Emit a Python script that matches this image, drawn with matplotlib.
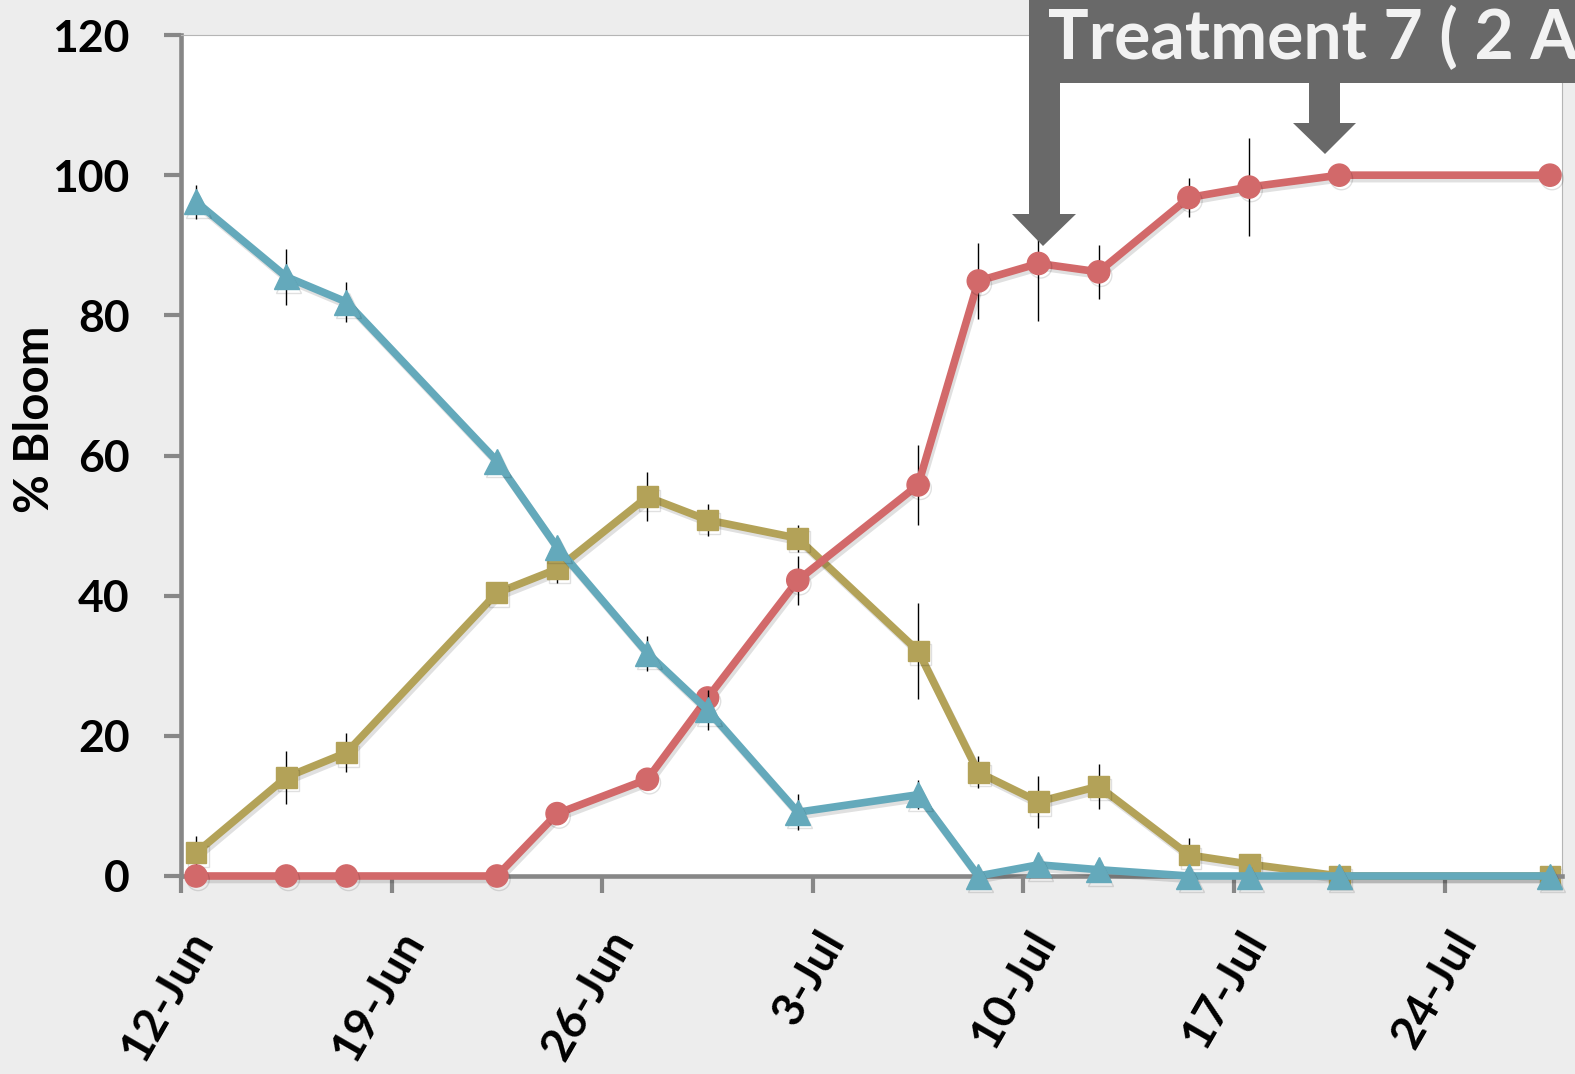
import pandas as pd
import matplotlib.pyplot as plt
import matplotlib.patheffects as pe
from matplotlib.patches import Rectangle, Polygon
from matplotlib.transforms import ScaledTranslation

plt.rcParams['font.family'] = ['Lato', 'DejaVu Sans']
plt.rcParams['font.weight'] = 'bold'

# sampling dates
obs_dates = ['2015-06-12', '2015-06-15', '2015-06-17', '2015-06-22', '2015-06-24',
             '2015-06-27', '2015-06-29', '2015-07-02', '2015-07-06', '2015-07-08',
             '2015-07-10', '2015-07-12', '2015-07-15', '2015-07-17', '2015-07-20',
             '2015-07-27']

# % bloom per stage (mean and error)
bud = [96.2, 85.5, 81.9, 59.2, 46.9, 31.8, 23.7, 9.1, 11.6, 0, 1.6, 0.9, 0, 0, 0, 0]
bud_err = [2.4, 4.0, 2.9, 1.5, 1.0, 2.5, 2.9, 2.6, 2.1, 0, 0.5, 0.3, 0, 0, 0, 0]
open_bloom = [3.3, 14.1, 17.6, 40.4, 43.8, 54.1, 50.8, 48.2, 32.1, 14.8, 10.6, 12.8, 3.0, 1.7, 0, 0]
open_bloom_err = [2.4, 3.8, 2.8, 1.5, 2.0, 3.5, 2.3, 1.9, 6.9, 2.3, 3.7, 3.2, 2.4, 0.8, 0, 0]
petal_fall = [0, 0, 0, 0, 8.9, 13.8, 25.4, 42.2, 55.8, 84.9, 87.4, 86.2, 96.8, 98.3, 100, 100]
petal_fall_err = [0, 0, 0, 0, 0.5, 0.5, 1.5, 3.5, 5.7, 5.4, 8.2, 3.8, 2.8, 7.0, 0, 0]

tick_dates = ['2015-06-12', '2015-06-19', '2015-06-26', '2015-07-03',
              '2015-07-10', '2015-07-17', '2015-07-24']
tick_labels = ['12-Jun', '19-Jun', '26-Jun', '3-Jul', '10-Jul', '17-Jul', '24-Jul']
y_ticks = [0, 20, 40, 60, 80, 100, 120]

title_text = 'Treatment 7 ( 2 Applications)'

W, H = 1575, 1074
fig = plt.figure(figsize=(W / 100, H / 100), dpi=100, facecolor='#ededed')
ax = fig.add_axes([181 / W, 1 - 876 / H, (1562 - 181) / W, (876 - 35) / H])
ax.set_facecolor('white')

# Excel date axis puts each point in the middle of its day
dates = pd.to_datetime(obs_dates) + pd.Timedelta(hours=12)

shadow = [pe.SimpleLineShadow(offset=(1.5, -2.5), shadow_color='black', alpha=0.12), pe.Normal()]

series = [
    (open_bloom, open_bloom_err, '#b3a258', 's', 15),
    (petal_fall, petal_fall_err, '#d2696a', 'o', 16),
    (bud, bud_err, '#64a9bb', '^', 18),
]
for i, (vals, err, color, marker, ms) in enumerate(series):
    ax.errorbar(dates, vals, yerr=err, fmt='none', ecolor='black', elinewidth=1.0,
                capsize=0, zorder=1 + i * 2)
    ax.plot(dates, vals, color=color, linewidth=5.5, marker=marker, markersize=ms,
            markeredgecolor=color, zorder=2 + i * 2, path_effects=shadow, clip_on=False)

start = pd.Timestamp('2015-06-12')
ax.set_xlim(start, start + pd.Timedelta(days=45.9))
ax.set_ylim(0, 120)

ax.set_xticks(pd.to_datetime(tick_dates))
ax.set_xticklabels(tick_labels, rotation=60, ha='right', va='center',
                   rotation_mode='anchor', fontsize=33, fontweight='bold')
ax.set_yticks(y_ticks)
ax.set_yticklabels([str(v) for v in y_ticks], fontsize=32, fontweight='bold')

for side in ['left', 'bottom']:
    ax.spines[side].set_color('#878787')
    ax.spines[side].set_linewidth(3.3)
for side in ['top', 'right']:
    ax.spines[side].set_color('#b5b5b5')
    ax.spines[side].set_linewidth(0.8)

ax.tick_params(axis='both', direction='out', length=12, width=3, color='#878787')
ax.tick_params(axis='y', pad=25)
ax.tick_params(axis='x', pad=30)
for lbl in ax.get_xticklabels():
    lbl.set_transform(lbl.get_transform() + ScaledTranslation(0.22, 0, fig.dpi_scale_trans))

fig.text(35 / W, 1 - 419 / H, '% Bloom', rotation=90, ha='center', va='center',
         fontsize=34, fontweight='bold')


def px(x, y):
    return (x / W, 1 - y / H)


# title banner and arrows
box_color = '#696969'
fig.patches.append(Rectangle(px(1029, 83), (W - 1029) / W, 83 / H, transform=fig.transFigure,
                             facecolor=box_color, edgecolor='none', zorder=10))
left_arrow = [px(1029, 80), px(1060, 80), px(1060, 214), px(1076, 214), px(1043, 246),
              px(1012, 214), px(1029, 214)]
right_arrow = [px(1309, 80), px(1340, 80), px(1340, 123), px(1356, 123), px(1325, 154),
               px(1293, 123), px(1309, 123)]
for poly in [left_arrow, right_arrow]:
    fig.patches.append(Polygon(poly, closed=True, transform=fig.transFigure,
                               facecolor=box_color, edgecolor='none', zorder=10))
fig.text(1048 / W, 1 - 59 / H, title_text, fontsize=49, fontweight='bold',
         color='#f2f2f2', ha='left', va='baseline', zorder=11)

plt.savefig('out.png', dpi=100, facecolor=fig.get_facecolor())
